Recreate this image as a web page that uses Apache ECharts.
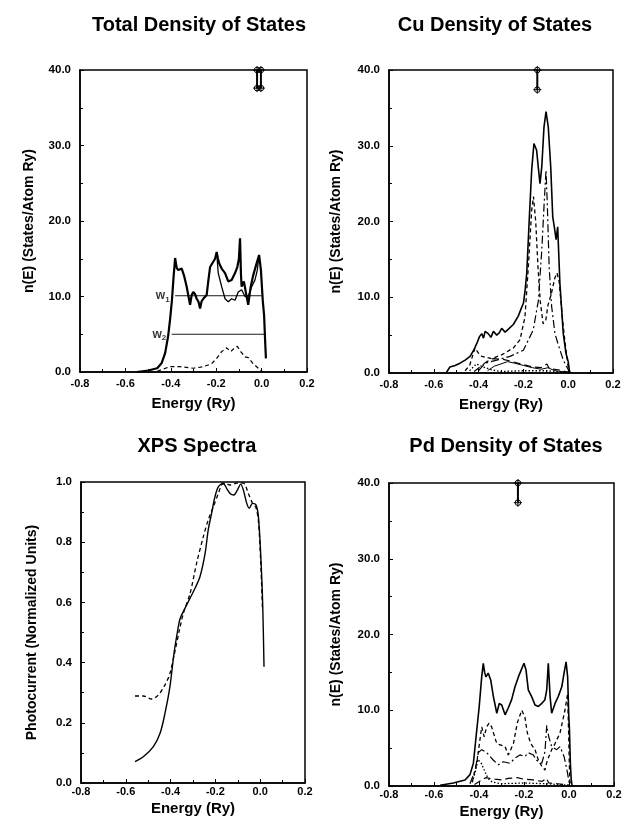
<!DOCTYPE html>
<html>
<head>
<meta charset="UTF-8">
<title>Density of States</title>
<script src="https://cdn.jsdelivr.net/npm/echarts@6/dist/echarts.min.js"></script>
<style>
  html, body { margin: 0; padding: 0; background: #fff; }
  #main { width: 627px; height: 826px; }
</style>
</head>
<body>
<div id="main"></div>
<script>
// ---- data (energy in Ry, n(E) in states/atom Ry) ----
var totalDos = [[-0.55,0.0],[-0.50,0.2],[-0.46,0.5],[-0.44,1.2],[-0.425,2.5],[-0.412,4.7],[-0.403,7.0],[-0.395,9.5],[-0.388,12.5],[-0.381,15.1],[-0.374,13.8],[-0.367,13.5],[-0.352,13.7],[-0.342,12.8],[-0.330,11.3],[-0.322,10.0],[-0.315,8.9],[-0.308,10.2],[-0.301,10.6],[-0.293,10.3],[-0.286,9.7],[-0.278,9.3],[-0.271,8.4],[-0.264,9.4],[-0.257,9.7],[-0.242,10.2],[-0.235,12.0],[-0.227,13.9],[-0.213,14.6],[-0.205,15.0],[-0.198,15.9],[-0.192,15.0],[-0.187,14.4],[-0.176,13.7],[-0.161,13.1],[-0.147,12.0],[-0.132,12.2],[-0.117,13.1],[-0.107,13.9],[-0.100,15.0],[-0.095,17.7],[-0.091,13.0],[-0.088,11.3],[-0.078,12.0],[-0.066,10.0],[-0.059,8.9],[-0.048,11.3],[-0.037,12.8],[-0.022,14.4],[-0.011,15.5],[-0.003,13.5],[0.005,9.5],[0.011,7.5],[0.015,4.5],[0.019,1.8]];
var totalDos2 = [[-0.198,15.9],[-0.191,13.1],[-0.176,11.3],[-0.161,9.7],[-0.147,9.3],[-0.132,9.7],[-0.117,9.5],[-0.103,10.6],[-0.088,10.9],[-0.073,10.0],[-0.059,10.0],[-0.044,11.3],[-0.029,12.2],[-0.019,13.5],[-0.011,15.5]];
var totalSp = [[-0.46,0.1],[-0.404,0.7],[-0.359,0.7],[-0.301,0.5],[-0.257,0.7],[-0.220,1.1],[-0.198,1.8],[-0.176,2.7],[-0.154,3.2],[-0.136,2.7],[-0.122,3.1],[-0.107,3.4],[-0.092,2.7],[-0.073,2.0],[-0.059,1.9],[-0.037,1.1],[-0.007,0.3],[0.005,0.0]];
var w1Line = [[-0.381,10.1],[0.0,10.1]];
var w2Line = [[-0.396,5.0],[0.015,5.0]];
var totalMarkA = [[-0.020,40],[-0.020,37.6]];
var totalMarkB = [[-0.003,40],[-0.003,37.6]];

var cuTotal = [[-0.545,0.0],[-0.528,0.8],[-0.505,1.0],[-0.483,1.3],[-0.46,1.7],[-0.438,2.2],[-0.422,3.0],[-0.408,3.9],[-0.396,4.8],[-0.386,5.2],[-0.378,4.6],[-0.371,5.5],[-0.357,5.2],[-0.345,4.7],[-0.334,5.5],[-0.319,5.0],[-0.308,5.3],[-0.297,5.9],[-0.282,5.4],[-0.267,5.8],[-0.245,6.4],[-0.223,7.5],[-0.210,8.5],[-0.200,9.2],[-0.192,11.0],[-0.185,13.2],[-0.174,20.2],[-0.163,26.8],[-0.153,30.3],[-0.141,29.4],[-0.133,27.0],[-0.126,25.0],[-0.118,27.2],[-0.108,32.5],[-0.099,34.5],[-0.089,32.5],[-0.078,27.2],[-0.069,20.6],[-0.062,19.3],[-0.054,17.6],[-0.047,19.3],[-0.037,11.8],[-0.022,5.2],[-0.010,2.6],[0.000,1.5],[0.005,0.4],[0.008,0.0]];
var cuEg = [[-0.46,0.3],[-0.44,1.0],[-0.416,3.3],[-0.40,2.6],[-0.386,2.2],[-0.342,1.9],[-0.297,2.4],[-0.245,3.3],[-0.215,4.4],[-0.193,7.4],[-0.178,14.0],[-0.163,21.5],[-0.155,23.3],[-0.145,20.0],[-0.135,14.0],[-0.125,9.5],[-0.112,6.5],[-0.100,7.0],[-0.090,9.0],[-0.075,10.5],[-0.060,12.5],[-0.050,13.2],[-0.040,12.0],[-0.025,7.0],[-0.014,4.0],[0.000,0.8],[0.008,0.0]];
var cuT2g = [[-0.40,0.3],[-0.371,1.3],[-0.319,1.7],[-0.260,2.2],[-0.200,3.0],[-0.156,5.7],[-0.133,9.6],[-0.118,16.2],[-0.108,22.0],[-0.099,26.8],[-0.093,22.0],[-0.085,14.0],[-0.074,8.8],[-0.059,5.2],[-0.045,3.8],[-0.022,1.7],[0.008,0.0]];
var cuP = [[-0.42,0.2],[-0.364,1.5],[-0.334,1.9],[-0.29,1.8],[-0.25,1.5],[-0.20,1.1],[-0.16,0.8],[-0.12,0.7],[-0.095,1.2],[-0.085,0.6],[-0.04,0.4],[0.0,0.1]];
var cuS = [[-0.44,0.3],[-0.41,1.2],[-0.38,0.8],[-0.34,0.4],[-0.30,0.2],[-0.20,0.3],[-0.10,0.3],[0.0,0.1]];
var cuF = [[-0.36,0.3],[-0.33,0.9],[-0.30,1.2],[-0.27,1.5],[-0.24,1.3],[-0.20,1.0],[-0.16,0.7],[-0.12,0.5],[-0.09,0.7],[-0.06,0.3],[0.0,0.1]];
var cuMark = [[-0.138,40],[-0.138,37.4]];

var xpsCalc = [[-0.559,0.071],[-0.522,0.087],[-0.477,0.121],[-0.447,0.165],[-0.425,0.232],[-0.403,0.320],[-0.385,0.430],[-0.370,0.500],[-0.358,0.545],[-0.336,0.580],[-0.313,0.614],[-0.291,0.647],[-0.269,0.685],[-0.246,0.763],[-0.232,0.841],[-0.217,0.896],[-0.202,0.951],[-0.187,0.984],[-0.165,0.996],[-0.150,0.979],[-0.132,0.960],[-0.117,0.957],[-0.102,0.973],[-0.087,0.993],[-0.075,0.973],[-0.060,0.929],[-0.049,0.913],[-0.034,0.929],[-0.019,0.924],[-0.008,0.885],[0.002,0.763],[0.011,0.597],[0.017,0.386]];
var xpsExp = [[-0.559,0.289],[-0.522,0.289],[-0.485,0.279],[-0.455,0.292],[-0.425,0.326],[-0.403,0.364],[-0.380,0.440],[-0.360,0.510],[-0.343,0.564],[-0.313,0.630],[-0.284,0.730],[-0.254,0.818],[-0.232,0.874],[-0.209,0.918],[-0.187,0.962],[-0.172,0.990],[-0.157,0.996],[-0.135,0.990],[-0.105,0.996],[-0.075,0.996],[-0.053,0.962],[-0.034,0.929],[-0.019,0.915],[-0.008,0.870],[0.002,0.740],[0.010,0.580]];

var pdTotal = [[-0.573,0.1],[-0.514,0.4],[-0.462,0.8],[-0.44,1.5],[-0.425,3.0],[-0.413,6.5],[-0.399,10.5],[-0.388,14.4],[-0.381,16.2],[-0.375,15.0],[-0.369,14.4],[-0.359,14.9],[-0.348,14.0],[-0.336,11.8],[-0.321,9.6],[-0.310,10.9],[-0.299,10.7],[-0.284,9.4],[-0.270,10.3],[-0.255,11.4],[-0.240,13.1],[-0.225,14.4],[-0.210,15.5],[-0.200,16.2],[-0.191,15.3],[-0.181,12.7],[-0.166,11.8],[-0.151,10.7],[-0.136,10.5],[-0.121,10.9],[-0.107,11.4],[-0.099,12.7],[-0.092,16.2],[-0.084,11.8],[-0.077,9.6],[-0.062,10.9],[-0.048,11.8],[-0.032,13.1],[-0.022,14.9],[-0.013,16.4],[-0.006,14.4],[-0.001,9.2],[0.002,7.5],[0.006,3.0],[0.010,0.8],[0.014,0.0]];
var pdEg = [[-0.43,0.5],[-0.410,3.0],[-0.388,7.8],[-0.377,6.5],[-0.366,7.8],[-0.355,8.3],[-0.344,7.8],[-0.321,5.6],[-0.284,5.2],[-0.270,4.1],[-0.247,5.6],[-0.230,8.3],[-0.210,10.0],[-0.196,9.1],[-0.185,7.0],[-0.170,5.6],[-0.151,4.8],[-0.136,3.4],[-0.121,2.6],[-0.107,2.1],[-0.096,3.4],[-0.077,4.8],[-0.062,5.6],[-0.040,7.0],[-0.018,10.0],[-0.006,12.2],[-0.001,6.1],[0.003,0.8],[0.008,0.0]];
var pdT2g = [[-0.44,0.3],[-0.418,2.0],[-0.403,4.4],[-0.388,4.8],[-0.366,4.4],[-0.336,3.4],[-0.314,2.8],[-0.292,3.2],[-0.262,3.0],[-0.240,3.7],[-0.218,4.1],[-0.196,3.9],[-0.181,4.4],[-0.159,4.1],[-0.144,3.4],[-0.121,3.0],[-0.107,4.5],[-0.099,8.0],[-0.090,6.5],[-0.077,5.2],[-0.055,4.8],[-0.040,5.2],[-0.022,3.9],[-0.009,2.1],[0.001,0.4]];
var pdP = [[-0.42,0.2],[-0.37,1.1],[-0.33,0.9],[-0.30,0.8],[-0.27,1.0],[-0.23,1.1],[-0.20,0.9],[-0.16,0.8],[-0.12,0.6],[-0.10,1.0],[-0.09,0.4],[-0.05,0.3],[0.0,0.1]];
var pdS = [[-0.43,0.5],[-0.415,2.0],[-0.405,3.5],[-0.39,3.0],[-0.375,2.0],[-0.36,1.0],[-0.34,0.5],[-0.30,0.3],[-0.20,0.4],[-0.10,0.3],[0.0,0.1]];
var pdMark = [[-0.227,40],[-0.227,37.4]];

var energyTicks = { min: -0.8, max: 0.2, interval: 0.2 };
var titles = ['Total Density of States', 'Cu Density of States', 'XPS Spectra', 'Pd Density of States'];

// ---- chart ----
var FONT = '"Liberation Sans", Arial, Helvetica, sans-serif';
var chart = echarts.init(document.getElementById('main'));

var grids = [
    { left: 80, top: 70, width: 227, height: 302 },
    { left: 389, top: 70, width: 224, height: 303 },
    { left: 81, top: 482, width: 224, height: 301 },
    { left: 389, top: 483, width: 225, height: 303 }
];
grids.forEach(function (g) {
    g.show = true; g.borderColor = '#000'; g.borderWidth = 1.5; g.backgroundColor = '#fff';
});

function fmt1(v) {
    if (Math.abs(v) < 1e-9) return '0.0';
    return v.toFixed(1);
}

function xAxisFor(i, gap, labelMargin) {
    return {
        type: 'value', gridIndex: i,
        min: energyTicks.min, max: energyTicks.max, interval: energyTicks.interval,
        name: 'Energy (Ry)', nameLocation: 'middle', nameGap: gap,
        nameTextStyle: { fontFamily: FONT, fontWeight: 'bold', fontSize: 15, color: '#000' },
        axisLine: { show: true, onZero: false, lineStyle: { color: '#000', width: 1.5 } },
        axisTick: { show: true, inside: true, length: 4, lineStyle: { color: '#000' } },
        minorTick: { show: true, splitNumber: 2, length: 3, lineStyle: { color: '#000' } },
        axisLabel: { formatter: fmt1, margin: labelMargin, fontFamily: FONT, fontWeight: 'bold', fontSize: 11, color: '#000' },
        splitLine: { show: false }
    };
}

function yAxisFor(i, max, interval, name, gap) {
    return {
        type: 'value', gridIndex: i, min: 0, max: max, interval: interval,
        name: name, nameLocation: 'middle', nameGap: gap, nameRotate: 90,
        nameTextStyle: { fontFamily: FONT, fontWeight: 'bold', fontSize: 14, color: '#000' },
        axisLine: { show: true, onZero: false, lineStyle: { color: '#000', width: 1.5 } },
        axisTick: { show: true, inside: true, length: 4, lineStyle: { color: '#000' } },
        minorTick: { show: true, splitNumber: 2, length: 3, lineStyle: { color: '#000' } },
        axisLabel: { formatter: fmt1, margin: 9, fontFamily: FONT, fontWeight: 'bold', fontSize: 11.5, color: '#000' },
        splitLine: { show: false }
    };
}

var DASH = [4, 3], DOT = [1.5, 2], DASHDOT = [8, 3, 2, 3], LONGDASH = [7, 4];

function line(i, data, width, type, z) {
    return {
        type: 'line', xAxisIndex: i, yAxisIndex: i, data: data,
        showSymbol: false, symbol: 'none', smooth: false, silent: true, z: z || 2,
        lineStyle: { color: '#000', width: width, type: type || 'solid' }
    };
}

var CROSS_CIRCLE = 'path://M10,3A7,7 0 1 1 10,17A7,7 0 1 1 10,3ZM0,10L20,10M10,0L10,20';
function marker(i, data) {
    return {
        type: 'line', xAxisIndex: i, yAxisIndex: i, data: data, clip: false, silent: true, z: 5,
        symbol: CROSS_CIRCLE, symbolSize: 8, showSymbol: true,
        itemStyle: { color: 'rgba(0,0,0,0)', borderColor: '#000', borderWidth: 1 },
        lineStyle: { color: '#000', width: 2 }
    };
}

function wLabel(i, pt, sub) {
    return {
        type: 'scatter', xAxisIndex: i, yAxisIndex: i, data: [pt], symbolSize: 1, silent: true,
        itemStyle: { color: 'rgba(0,0,0,0)' },
        label: {
            show: true, position: 'left', distance: 5,
            formatter: '{a|w}{b|' + sub + '}',
            rich: {
                a: { fontFamily: FONT, fontWeight: 'bold', fontSize: 12, color: '#000', lineHeight: 16 },
                b: { fontFamily: FONT, fontWeight: 'bold', fontSize: 8, color: '#000', lineHeight: 14, verticalAlign: 'bottom' }
            }
        }
    };
}

var titleCenters = [[194, 10], [490, 10], [192, 431], [501, 431]];

chart.setOption({
    backgroundColor: '#fff',
    animation: false,
    title: titles.map(function (t, k) {
        return {
            text: t, left: titleCenters[k][0], top: titleCenters[k][1], textAlign: 'center',
            textStyle: { fontFamily: FONT, fontWeight: 'bold', fontSize: 20, color: '#000' }
        };
    }),
    grid: grids,
    xAxis: [xAxisFor(0, 24, 6), xAxisFor(1, 24, 6), xAxisFor(2, 18, 3), xAxisFor(3, 18, 3)],
    yAxis: [
        yAxisFor(0, 40, 10, 'n(E) (States/Atom Ry)', 44),
        yAxisFor(1, 40, 10, 'n(E) (States/Atom Ry)', 46),
        yAxisFor(2, 1, 0.2, 'Photocurrent (Normalized Units)', 42),
        yAxisFor(3, 40, 10, 'n(E) (States/Atom Ry)', 46)
    ],
    series: [
        // total
        line(0, totalDos, 2.2, 'solid', 3),
        line(0, totalDos2, 1.3, 'solid'),
        line(0, totalSp, 1.2, DASH),
        line(0, w1Line, 0.9, 'solid'),
        line(0, w2Line, 0.9, 'solid'),
        wLabel(0, w1Line[0], '1'),
        wLabel(0, w2Line[0], '2'),
        marker(0, totalMarkA),
        marker(0, totalMarkB),
        // Cu
        line(1, cuTotal, 1.6, 'solid', 3),
        line(1, cuEg, 1.3, DASH),
        line(1, cuT2g, 1.2, DASHDOT),
        line(1, cuP, 1.2, LONGDASH),
        line(1, cuS, 1.3, DOT),
        line(1, cuF, 1.0, 'solid'),
        marker(1, cuMark),
        // XPS
        { type: 'line', xAxisIndex: 2, yAxisIndex: 2, data: xpsCalc, showSymbol: false, symbol: 'none', smooth: 0.3, silent: true,
          lineStyle: { color: '#000', width: 1.4 } },
        { type: 'line', xAxisIndex: 2, yAxisIndex: 2, data: xpsExp, showSymbol: false, symbol: 'none', smooth: 0.3, silent: true,
          lineStyle: { color: '#000', width: 1.3, type: DASH } },
        // Pd
        line(3, pdTotal, 1.6, 'solid', 3),
        line(3, pdEg, 1.3, DASH),
        line(3, pdT2g, 1.2, DASHDOT),
        line(3, pdP, 1.2, LONGDASH),
        line(3, pdS, 1.3, DOT),
        marker(3, pdMark)
    ]
});
</script>
</body>
</html>
